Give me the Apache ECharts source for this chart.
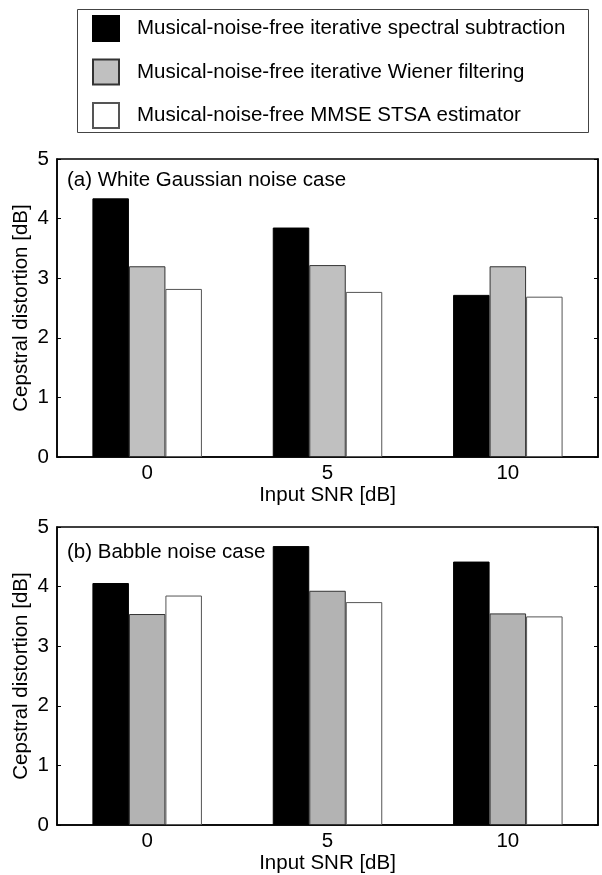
<!DOCTYPE html>
<html>
<head>
<meta charset="utf-8">
<script src="https://cdn.jsdelivr.net/npm/echarts@6/dist/echarts.min.js"></script>
<style>
  html, body { margin: 0; padding: 0; background: #fff; }
  #main { width: 602px; height: 875px; }
</style>
</head>
<body>
<div id="main"></div>
<script>
var snrLevels = ['0', '5', '10'];
var methodNames = [
    'Musical-noise-free iterative spectral subtraction',
    'Musical-noise-free iterative Wiener filtering',
    'Musical-noise-free MMSE STSA estimator'
];
// (a) white Gaussian noise
var whiteSS = [4.34, 3.85, 2.72];
var whiteWF = [3.20, 3.22, 3.20];
var whiteMMSE = [2.82, 2.77, 2.69];
// (b) babble noise
var babbleSS = [4.06, 4.68, 4.42];
var babbleWF = [3.54, 3.93, 3.55];
var babbleMMSE = [3.85, 3.74, 3.50];

var font = 'Liberation Sans, Arial, Helvetica, sans-serif';
var fs = 20.5;

function xAx(idx) {
    return {
        type: 'category', gridIndex: idx, data: snrLevels,
        name: 'Input SNR [dB]', nameLocation: 'middle', nameGap: 26,
        nameTextStyle: { color: '#000', fontSize: fs, fontFamily: font },
        axisLine: { lineStyle: { color: '#000', width: 1.5 } },
        axisTick: { show: false },
        axisLabel: { color: '#000', fontSize: fs, fontFamily: font, margin: 6 }
    };
}
function yAx(idx, pos) {
    var left = pos === 'left';
    return {
        type: 'value', gridIndex: idx, position: pos, min: 0, max: 5, interval: 1,
        name: left ? 'Cepstral distortion [dB]' : '',
        nameLocation: 'middle', nameGap: 25, nameRotate: 90, nameMoveOverlap: false,
        nameTextStyle: { color: '#000', fontSize: fs, fontFamily: font },
        axisLine: { show: true, lineStyle: { color: '#000', width: 1.5 } },
        axisTick: { show: true, inside: true, length: 4, lineStyle: { color: '#000' } },
        axisLabel: { show: left, color: '#000', fontSize: fs, fontFamily: font, margin: 8 },
        splitLine: { show: false }
    };
}
function bar(name, data, idx, color, border) {
    return {
        name: name, type: 'bar', xAxisIndex: idx, yAxisIndex: idx * 2,
        data: data, barWidth: 36.5, barGap: '0%',
        itemStyle: { color: color, borderColor: border, borderWidth: 1 },
        emphasis: { disabled: true }
    };
}

var myChart = echarts.init(document.getElementById('main'));
var option = {
    animation: false,
    backgroundColor: '#fff',
    graphic: [{
        type: 'rect', left: 75, top: 7, silent: true,
        shape: { width: 511, height: 123 },
        style: { fill: 'none', stroke: '#444', lineWidth: 1 }
    }],
    legend: {
        orient: 'vertical', left: 92, top: 15, padding: 0,
        itemWidth: 26, itemHeight: 25, itemGap: 16.5,
        icon: 'rect',
        data: methodNames,
        textStyle: { color: '#000', fontSize: fs, fontFamily: font, padding: [0, 0, 0, 13] }
    },
    title: [
        { text: '(a) White Gaussian noise case', left: 62, top: 165,
          textStyle: { color: '#000', fontSize: fs, fontWeight: 'normal', fontFamily: font } },
        { text: '(b) Babble noise case', left: 62, top: 537,
          textStyle: { color: '#000', fontSize: fs, fontWeight: 'normal', fontFamily: font } }
    ],
    grid: [
        { left: 57, right: 4, top: 159, height: 298, outerBoundsMode: 'none', show: true, borderColor: '#000', borderWidth: 1.5, backgroundColor: 'transparent' },
        { left: 57, right: 4, top: 527, height: 298, outerBoundsMode: 'none', show: true, borderColor: '#000', borderWidth: 1.5, backgroundColor: 'transparent' }
    ],
    xAxis: [xAx(0), xAx(1)],
    yAxis: [yAx(0, 'left'), yAx(0, 'right'), yAx(1, 'left'), yAx(1, 'right')],
    series: [
        bar(methodNames[0], whiteSS, 0, '#000', '#000'),
        bar(methodNames[1], whiteWF, 0, '#c0c0c0', '#333'),
        bar(methodNames[2], whiteMMSE, 0, '#fff', '#555'),
        bar(methodNames[0], babbleSS, 1, '#000', '#000'),
        bar(methodNames[1], babbleWF, 1, '#b3b3b3', '#333'),
        bar(methodNames[2], babbleMMSE, 1, '#fff', '#555')
    ]
};
myChart.setOption(option);
</script>
</body>
</html>
